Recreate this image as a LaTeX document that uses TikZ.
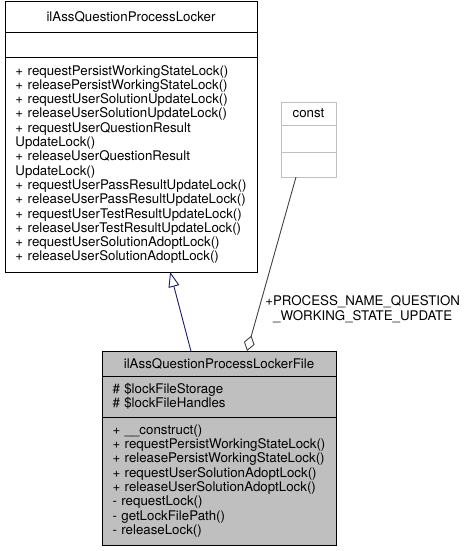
\documentclass[tikz,border=0pt]{standalone}
\usepackage{fontspec}
\setmainfont{TeX Gyre Heros}
\usepackage{tikz}
\usetikzlibrary{positioning,arrows.meta}
\definecolor{edgenavy}{HTML}{191970}
\definecolor{edgegrey}{HTML}{404040}
\definecolor{boxgrey}{HTML}{BFBFBF}
\tikzstyle{classpart} = [rectangle, draw, line width=0.9pt, outer sep=0pt, inner xsep=10.5pt, inner ysep=0pt, font=\fontsize{13.3}{14.3}\selectfont]
\tikzstyle{lockerpart} = [classpart, text width=231pt, align=left]
\tikzstyle{filepart} = [classpart, text width=213pt, align=left, fill=boxgrey]
\tikzstyle{constpart} = [classpart, draw=boxgrey, text width=34pt, align=center]
\tikzstyle{inherit} = [draw=edgenavy, line width=0.9pt, -{Triangle[open, length=15pt, width=11pt]}]
\tikzstyle{aggr} = [draw=edgegrey, line width=0.9pt, -{Diamond[open, length=16pt, width=11pt]}]

\begin{document}
\begin{tikzpicture}[x=1pt, y=1pt]
		\useasboundingbox (0,0) rectangle (468,-551);
		% base class
		\node[lockerpart, align=center, minimum height=31pt] at (131,-16.5) (lockerhead) {ilAssQuestionProcessLocker};
		\node[lockerpart, minimum height=25pt, below=0pt of lockerhead] (lockerattr) {};
		\node[lockerpart, minimum height=215pt, below=0pt of lockerattr] (lockerops) {%
			+ requestPersistWorkingStateLock()\\
			+ releasePersistWorkingStateLock()\\
			+ requestUserSolutionUpdateLock()\\
			+ releaseUserSolutionUpdateLock()\\
			+ requestUserQuestionResult\\
			UpdateLock()\\
			+ releaseUserQuestionResult\\
			UpdateLock()\\
			+ requestUserPassResultUpdateLock()\\
			+ releaseUserPassResultUpdateLock()\\
			+ requestUserTestResultUpdateLock()\\
			+ releaseUserTestResultUpdateLock()\\
			+ requestUserSolutionAdoptLock()\\
			+ releaseUserSolutionAdoptLock()};
		
		% const
		\node[constpart, minimum height=23pt] at (308.5,-113.5) (consthead) {const};
		\node[constpart, minimum height=27pt, below=0pt of consthead] (constattr) {};
		\node[constpart, minimum height=25pt, below=0pt of constattr] (constops) {};
		
		% derived class
		\node[filepart, align=center, minimum height=25pt] at (219,-363.5) (filehead) {ilAssQuestionProcessLockerFile};
		\node[filepart, minimum height=41pt, below=0pt of filehead] (fileattr) {%
			\# \$lockFileStorage\\
			\# \$lockFileHandles};
		\node[filepart, minimum height=128pt, below=0pt of fileattr] (fileops) {%
			+ \_\_construct()\\
			+ requestPersistWorkingStateLock()\\
			+ releasePersistWorkingStateLock()\\
			+ requestUserSolutionAdoptLock()\\
			+ releaseUserSolutionAdoptLock()\\
			- requestLock()\\
			- getLockFilePath()\\
			- releaseLock()};
		
		% Paths
		\path [inherit] (filehead.156) -- (lockerops.-70);
		\path [aggr] (constops.225) -- node[pos=0.76, anchor=west, align=center, inner xsep=6pt, font=\fontsize{13.3}{14.3}\selectfont]{+PROCESS\_NAME\_QUESTION\\\_WORKING\_STATE\_UPDATE} (filehead.24);
		
	\end{tikzpicture}
\end{document}
